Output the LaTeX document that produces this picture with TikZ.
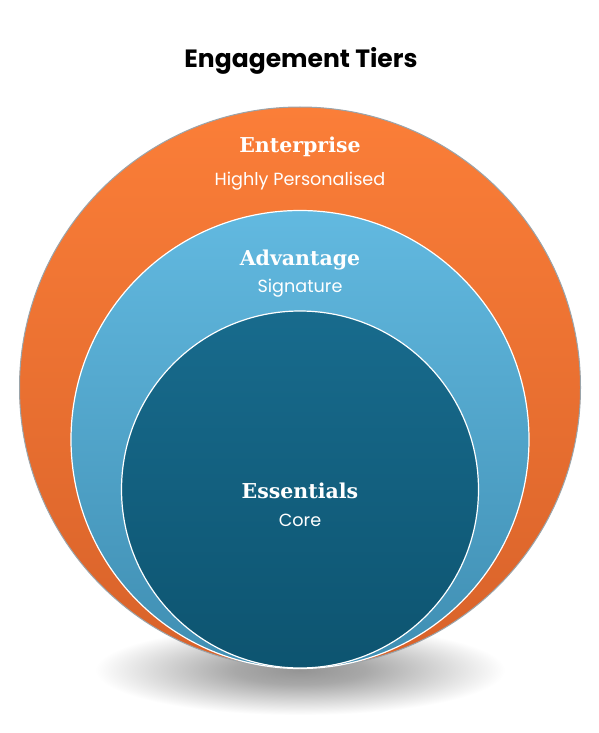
\documentclass[tikz,border=0pt]{standalone}
\usepackage{fontspec}
\setmainfont{Poppins}
\newfontfamily\tierfont{DejaVu Serif}
\definecolor{orA}{HTML}{FB7E38}
\definecolor{orB}{HTML}{D8622A}
\definecolor{blA}{HTML}{62B9E0}
\definecolor{blB}{HTML}{3F8EB2}
\definecolor{dkA}{HTML}{186B8D}
\definecolor{dkB}{HTML}{0D5470}
\definecolor{rimgrey}{HTML}{9AA4AA}
\pgfdeclareradialshading{softshadow}{\pgfpointorigin}{%
  color(0bp)=(black!42); color(8bp)=(black!34); color(16bp)=(black!18);
  color(22bp)=(black!6); color(25bp)=(white); color(50bp)=(white)}
\tikzset{
  tier/.style={circle, inner sep=0pt, outer sep=0pt, line width=1.2pt},
  tiername/.style={text=white, font=\tierfont\bfseries\fontsize{20.5}{23}\selectfont, inner sep=0pt},
  tiersub/.style={text=white, font=\fontsize{17.6}{20}\selectfont, inner sep=0pt}
}
\begin{document}
\begin{tikzpicture}[x=1pt,y=-1pt]
\useasboundingbox[fill=white] (0,0) rectangle (598,733);
\node[font=\bfseries\fontsize{25}{29}\selectfont, inner sep=0pt] (title) at (301,61) {Engagement Tiers};
\shade[shading=softshadow] (300,670) ellipse (205pt and 45pt);
\node[tier, minimum size=561pt, top color=orA, bottom color=orB, draw=rimgrey, line width=1pt] (outer) at (300,387.5) {};
\node[tier, minimum size=458pt, top color=blA, bottom color=blB, draw=white] (middle) at (300,439.5) {};
\node[tier, minimum size=357pt, top color=dkA, bottom color=dkB, draw=white] (inner) at (300,489.5) {};
\node[tiername] (ent) at (300,147) {Enterprise};
\node[tiersub] (entsub) at (300,181) {Highly Personalised};
\node[tiername] (adv) at (300,260) {Advantage};
\node[tiersub] (advsub) at (300,288) {Signature};
\node[tiername] (ess) at (300,491) {Essentials};
\node[tiersub] (esssub) at (300,520) {Core};
\end{tikzpicture}
\end{document}
